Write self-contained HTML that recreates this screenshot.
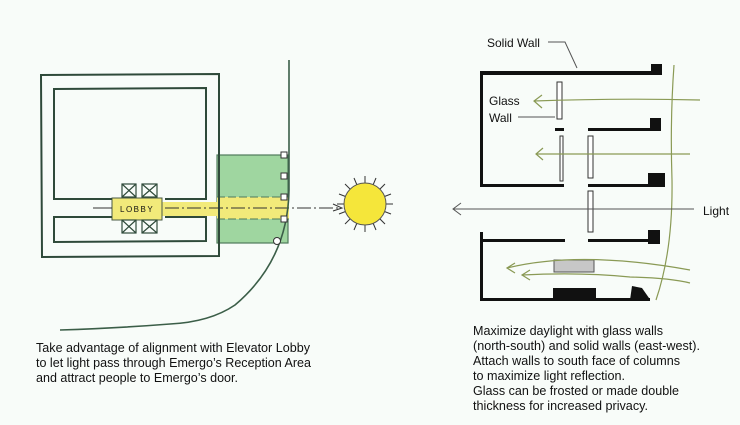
<!DOCTYPE html>
<html><head><meta charset="utf-8"><style>
html,body{margin:0;padding:0;background:#f8fcf9;}
svg{display:block;}
text{font-family:"Liberation Sans",sans-serif;fill:#111;}
</style></head><body>
<svg width="740" height="425" viewBox="0 0 740 425" xmlns="http://www.w3.org/2000/svg">
<rect width="740" height="425" fill="#f8fcf9"/>
<!-- LEFT DIAGRAM -->
<rect x="217" y="155" width="71" height="88" fill="#9fd6a0" stroke="#4f7a5b" stroke-width="1.2"/>
<rect x="217" y="197" width="72" height="22" fill="#f2ea7a"/>
<rect x="162" y="202" width="56" height="14" fill="#f2ea7a"/>
<rect x="112" y="198" width="50" height="22" fill="#f2ea7a" stroke="#4a5a45" stroke-width="1"/>
<line x1="217" y1="197" x2="289" y2="197" stroke="#4f7a5b" stroke-width="1" stroke-dasharray="8,3"/>
<line x1="217" y1="219" x2="289" y2="219" stroke="#4f7a5b" stroke-width="1" stroke-dasharray="8,3"/>
<g fill="none" stroke="#2f4a3a" stroke-width="2">
<path d="M41 75 L219 74 L219 256 L42 257 Z"/>
<path d="M112 199 L54 199 L54 89 L206 88 L206 199 L165 199"/>
<path d="M112 217 L54 217 L54 242 L206 241 L206 217 L165 217"/>
</g>
<g fill="none" stroke="#2f4a3a" stroke-width="1.2">
<rect x="122" y="184" width="14" height="13"/><path d="M122 184 L136 197 M136 184 L122 197"/>
<rect x="142" y="184" width="15" height="13"/><path d="M142 184 L157 197 M157 184 L142 197"/>
<rect x="122" y="220" width="14" height="13"/><path d="M122 220 L136 233 M136 220 L122 233"/>
<rect x="142" y="220" width="15" height="13"/><path d="M142 220 L157 233 M157 220 L142 233"/>
</g>
<text x="120" y="212" font-size="8" letter-spacing="1.5" fill="#333">LOBBY</text>
<line x1="93" y1="208" x2="112" y2="208" stroke="#333" stroke-width="1"/>
<line x1="165" y1="208" x2="340" y2="208" stroke="#333" stroke-width="1" stroke-dasharray="14,3,2,3"/>
<path d="M333 204 L342 208 L333 211" fill="none" stroke="#333" stroke-width="1"/>
<path d="M289 60 L289 190 Q288 260 235 305 Q210 322 170 324 Q120 328 60 330" fill="none" stroke="#3b5e48" stroke-width="1.6"/>
<g fill="#fff" stroke="#333" stroke-width="1">
<rect x="281" y="152" width="6" height="6"/><rect x="281" y="173" width="6" height="6"/>
<rect x="281" y="194" width="6" height="6"/><rect x="281" y="216" width="6" height="6"/>
<circle cx="277" cy="241" r="3.5"/>
</g>
<g stroke="#333" stroke-width="1">
<line x1="365" y1="204" x2="393" y2="204"/><line x1="365" y1="204" x2="337" y2="204"/>
<line x1="365" y1="204" x2="365" y2="176"/><line x1="365" y1="204" x2="365" y2="232"/>
<line x1="365" y1="204" x2="385" y2="184"/><line x1="365" y1="204" x2="345" y2="224"/>
<line x1="365" y1="204" x2="345" y2="184"/><line x1="365" y1="204" x2="385" y2="224"/>
<line x1="365" y1="204" x2="354" y2="178"/><line x1="365" y1="204" x2="376" y2="230"/>
<line x1="365" y1="204" x2="391" y2="194"/><line x1="365" y1="204" x2="339" y2="214"/>
<line x1="365" y1="204" x2="376" y2="178"/><line x1="365" y1="204" x2="354" y2="230"/>
<line x1="365" y1="204" x2="391" y2="214"/><line x1="365" y1="204" x2="339" y2="194"/>
</g>
<circle cx="365" cy="204" r="21" fill="#f5e63a" stroke="#555" stroke-width="1"/>
<!-- RIGHT DIAGRAM -->
<g fill="#111">
<rect x="480" y="71" width="174" height="4"/><rect x="651" y="64" width="11" height="11"/>
<rect x="480" y="71" width="3" height="116"/><rect x="480" y="184" width="84" height="3"/>
<rect x="588" y="128" width="64" height="3"/><rect x="650" y="118" width="11" height="13"/>
<rect x="588" y="184" width="64" height="3"/><rect x="648" y="173" width="17" height="14"/>
<rect x="480" y="239" width="85" height="3"/><rect x="588" y="239" width="64" height="3"/><rect x="648" y="230" width="12" height="14"/>
<rect x="480" y="232" width="3" height="69"/><rect x="480" y="298" width="170" height="3"/>
<rect x="553" y="288" width="43" height="12"/><path d="M632 286 L642 288 L649 298 L630 300 Z"/>
<rect x="555" y="128" width="9" height="3"/>
</g>
<g fill="#fff" stroke="#333" stroke-width="1">
<rect x="557" y="82" width="5" height="37"/><rect x="560" y="136" width="3" height="45"/>
<rect x="588" y="136" width="5" height="42"/><rect x="588" y="191" width="5" height="41"/>
</g>
<rect x="554" y="260" width="40" height="12" fill="#c7c7c7" stroke="#555" stroke-width="1"/>
<g fill="none" stroke="#8a9a55" stroke-width="1.2">
<path d="M534 101 Q620 98 700 100"/><path d="M542 95 L534 101 L542 108"/>
<path d="M536 154 L690 154"/><path d="M543 148 L536 154 L543 160"/>
<path d="M507 268 Q580 250 690 270"/><path d="M515 263 L507 268 L515 273"/>
<path d="M522 275 Q580 272 630 277 Q670 278 690 283"/><path d="M530 270 L522 275 L530 280"/>
<path d="M674 65 Q670 120 672 180 Q673 250 656 300"/>
</g>
<g fill="none" stroke="#555" stroke-width="1">
<line x1="453" y1="209" x2="694" y2="209"/><path d="M461 203 L453 209 L461 215"/>
<path d="M548 42 L565 42 L577 68"/>
<line x1="518" y1="117" x2="555" y2="117"/>
</g>
<text x="487" y="47" font-size="12">Solid Wall</text>
<text x="489" y="105" font-size="12">Glass</text>
<text x="489" y="122" font-size="12">Wall</text>
<text x="703" y="215" font-size="12">Light</text>
<g font-size="13">
<text x="36" y="352" textLength="274" lengthAdjust="spacingAndGlyphs">Take advantage of alignment with Elevator Lobby</text>
<text x="36" y="367" textLength="275" lengthAdjust="spacingAndGlyphs">to let light pass through Emergo’s Reception Area</text>
<text x="36" y="382" textLength="202" lengthAdjust="spacingAndGlyphs">and attract people to Emergo’s door.</text>
<text x="473" y="335" textLength="190" lengthAdjust="spacingAndGlyphs">Maximize daylight with glass walls</text>
<text x="473" y="350" textLength="227" lengthAdjust="spacingAndGlyphs">(north-south) and solid walls (east-west).</text>
<text x="473" y="365" textLength="207" lengthAdjust="spacingAndGlyphs">Attach walls to south face of columns</text>
<text x="473" y="380" textLength="152" lengthAdjust="spacingAndGlyphs">to maximize light reflection.</text>
<text x="473" y="395" textLength="206" lengthAdjust="spacingAndGlyphs">Glass can be frosted or made double</text>
<text x="473" y="410" textLength="175" lengthAdjust="spacingAndGlyphs">thickness for increased privacy.</text>
</g>
</svg>
</body></html>
